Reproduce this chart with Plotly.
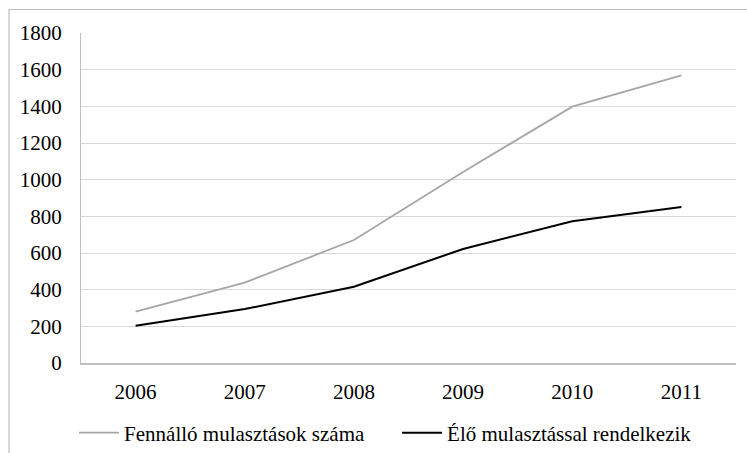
import plotly.graph_objects as go

years = ["2006", "2007", "2008", "2009", "2010", "2011"]
fennallo = [280, 438, 671, 1042, 1398, 1569]
elo = [203, 294, 416, 622, 773, 851]
y_ticks = [0, 200, 400, 600, 800, 1000, 1200, 1400, 1600, 1800]

FONT = "Liberation Serif"
FS = 21

fig = go.Figure()
fig.add_trace(go.Scatter(
    x=years, y=fennallo, mode="lines", name="Fennálló mulasztások száma",
    line=dict(color="#a6a6a6", width=1.8),
))
fig.add_trace(go.Scatter(
    x=years, y=elo, mode="lines", name="Élő mulasztással rendelkezik",
    line=dict(color="#000000", width=2),
))

fig.update_layout(
    width=747, height=453,
    margin=dict(l=81, r=11, t=33, b=90, autoexpand=False),
    paper_bgcolor="white", plot_bgcolor="white",
    font=dict(family=FONT, size=FS, color="#000000"),
    showlegend=True,
    legend=dict(
        orientation="h", x=-0.0106, y=-0.15, xanchor="left", yanchor="top",
        font=dict(family=FONT, size=FS), itemwidth=40,
        entrywidth=268, entrywidthmode="pixels",
        tracegroupgap=0, bgcolor="rgba(0,0,0,0)",
    ),
    xaxis=dict(
        type="category", range=[-0.5, 5.5], showgrid=False, showline=True,
        linecolor="#bfbfbf", linewidth=1.5, ticks="", ticklabelstandoff=9,
        tickfont=dict(family=FONT, size=FS),
    ),
    yaxis=dict(
        range=[0, 1800], tickvals=y_ticks, showgrid=True, gridcolor="#d9d9d9",
        gridwidth=1.2, showline=True, linecolor="#bfbfbf", linewidth=1.2,
        zeroline=False, ticks="", ticklabelstandoff=14,
        tickfont=dict(family=FONT, size=FS),
    ),
    shapes=[dict(
        type="rect", xref="paper", yref="paper",
        x0=(9 - 81) / 655, x1=(760 - 81) / 655,
        y0=1 - (470 - 33) / 330, y1=1 + (33 - 9.5) / 330,
        line=dict(color="#bfbfbf", width=1.2), fillcolor="rgba(0,0,0,0)",
        layer="below",
    )],
)

fig.write_html("out.html")
